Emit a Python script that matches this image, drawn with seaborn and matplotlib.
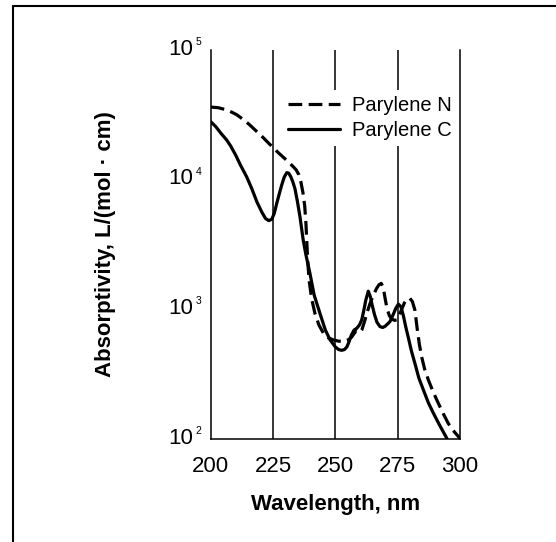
import numpy as np
import pandas as pd
import matplotlib
matplotlib.use("Agg")
import matplotlib.pyplot as plt
from matplotlib.lines import Line2D
from matplotlib.transforms import ScaledTranslation
import seaborn as sns

# ---- data ----
n_wavelength = [200, 203, 206, 208.5, 210.5, 213, 215.5, 218, 220.5, 222.8, 224.9,
                227, 229, 231, 233.1, 234.3, 235.3, 236.2, 237, 237.7, 238.2, 238.6,
                239, 239.5, 240.5, 241.8, 243.4, 245.2, 247.2, 249.2, 251.2, 253.2,
                255.2, 256.5, 257.4, 258.2, 259, 259.8, 260.6, 261.6, 262.8, 264,
                265.3, 266.5, 267.5, 268.4, 269.2, 270, 270.8, 271.7, 272.7, 273.7,
                274.6, 275.6, 276.6, 277.7, 278.8, 279.9, 280.9, 281.9, 282.9, 283.7,
                284.6, 285.8, 287.3, 289.3, 291.3, 293.3, 295.3, 297.3, 299.3, 300]
n_log_abs = [4.56, 4.555, 4.54, 4.52, 4.50, 4.465, 4.425, 4.38, 4.335, 4.29, 4.25,
             4.21, 4.175, 4.14, 4.10, 4.075, 4.04, 3.98, 3.90, 3.80, 3.664, 3.50,
             3.35, 3.22, 3.08, 2.97, 2.88, 2.816, 2.78, 2.764, 2.755, 2.751,
             2.765, 2.785, 2.81, 2.83, 2.825, 2.82, 2.84, 2.90, 2.98, 3.05,
             3.11, 3.16, 3.19, 3.20, 3.17, 3.08, 3.00, 2.95, 2.925, 2.915,
             2.918, 2.95, 3.00, 3.05, 3.08, 3.085, 3.06, 2.995, 2.84, 2.73,
             2.635, 2.54, 2.456, 2.36, 2.276, 2.195, 2.12, 2.065, 2.02, 2.0]

c_wavelength = [200, 202, 204, 206.4, 208, 210, 212, 214.4, 216.5, 218.5, 220.5, 222,
                223.3, 224.5, 225.5, 226.5, 227.5, 228.5, 229.5, 230.5, 231.3, 232.2,
                233, 233.8, 234.8, 235.8, 237.1, 238.2, 239.8, 241.5, 243.8, 246,
                247.9, 250, 251.3, 252.5, 253.7, 254.6, 255.5, 256.4, 257.5, 258.6,
                259.7, 260.6, 261.4, 262.2, 263.2, 264, 264.8, 265.7, 266.7, 267.9,
                269, 270, 271.9, 273.2, 274.3, 275.3, 276.3, 277.3, 278.3, 279.3,
                280.5, 281.9, 283.5, 285.3, 287.3, 289.3, 292, 294.7]
c_log_abs = [4.447, 4.41, 4.36, 4.306, 4.26, 4.19, 4.11, 4.023, 3.93, 3.83, 3.75, 3.70,
             3.684, 3.695, 3.74, 3.818, 3.89, 3.96, 4.02, 4.054, 4.05, 4.02,
             3.98, 3.93, 3.83, 3.715, 3.535, 3.42, 3.278, 3.11, 2.97, 2.84,
             2.764, 2.71, 2.69, 2.684, 2.69, 2.71, 2.75, 2.80, 2.84, 2.854,
             2.88, 2.92, 2.99, 3.07, 3.14, 3.10, 3.03, 2.96, 2.90, 2.867,
             2.86, 2.87, 2.905, 2.96, 3.01, 3.04, 3.02, 2.95, 2.86, 2.78,
             2.68, 2.584, 2.47, 2.379, 2.28, 2.20, 2.10, 2.006]

series_names = ["Parylene N", "Parylene C"]
x_ticks = [200, 225, 250, 275, 300]
y_exponents = [2, 3, 4, 5]
y_tick_labels = ["10", "10", "10", "10"]
grid_positions = [225, 250, 275]

df = pd.concat([
    pd.DataFrame({"Wavelength": n_wavelength,
                  "Absorptivity": np.power(10.0, n_log_abs),
                  "Material": series_names[0]}),
    pd.DataFrame({"Wavelength": c_wavelength,
                  "Absorptivity": np.power(10.0, c_log_abs),
                  "Material": series_names[1]}),
], ignore_index=True)

sns.set_theme(style="white")
plt.rcParams["font.family"] = ["Liberation Sans", "DejaVu Sans"]

W, H = 556, 542
fig = plt.figure(figsize=(W / 100, H / 100), dpi=100)
ax = fig.add_axes([210.7 / W, (H - 439) / H, (460 - 210.7) / W, (439 - 50) / H])

sns.lineplot(data=df, x="Wavelength", y="Absorptivity", style="Material",
             style_order=series_names,
             dashes={series_names[0]: (4.3, 2.0), series_names[1]: ""},
             color="black", linewidth=2.3, sort=False, estimator=None, ax=ax)

ax.set_yscale("log")
ax.set_xlim(200, 300)
ax.set_ylim(1e2, 1e5)
ax.set_xticks(x_ticks)
ax.set_xticklabels([str(t) for t in x_ticks])
y_ticks = [10.0 ** e for e in y_exponents]
ax.set_yticks(y_ticks)
ax.set_yticklabels(y_tick_labels)
ax.yaxis.set_minor_locator(matplotlib.ticker.NullLocator())
ax.tick_params(axis="both", length=0, labelsize=16, colors="black")
ax.tick_params(axis="x", pad=12)
ax.tick_params(axis="y", pad=12.5)
shift_up = ScaledTranslation(0, 3.5 / 100, fig.dpi_scale_trans)
for lab in ax.get_yticklabels():
    lab.set_transform(lab.get_transform() + shift_up)

# small superscript exponents next to the "10" tick labels
for e, v in zip(y_exponents, y_ticks):
    ax.annotate(str(e), xy=(0, v), xycoords=("axes fraction", "data"),
                xytext=(-10.9, 9.4), textcoords="offset points",
                ha="left", va="top", fontsize=7.5, color="black")

for g in grid_positions:
    ax.axvline(g, color="black", linewidth=1.1, zorder=1)

for side in ["left", "bottom", "right"]:
    ax.spines[side].set_visible(True)
    ax.spines[side].set_color("black")
    ax.spines[side].set_linewidth(1.1)
ax.spines["top"].set_visible(False)

ax.set_xlabel("Wavelength, nm", fontsize=16, fontweight="bold", color="black")
ax.set_ylabel("Absorptivity, L/(mol \u00b7 cm)", fontsize=16, fontweight="bold",
              color="black")
ax.xaxis.set_label_coords(0.5, -0.141)
ax.yaxis.set_label_coords(-0.38, 0.5)

leg = ax.legend(loc="upper left", bbox_to_anchor=(0.285, 0.897), fontsize=14.5,
                frameon=True, facecolor="white", edgecolor="none", framealpha=1,
                handlelength=2.6, handletextpad=0.6, labelspacing=0.3,
                borderpad=0.3, borderaxespad=0)
leg.get_frame().set_boxstyle("square", pad=0)
for t in leg.get_texts():
    t.set_color("black")

# outer frame lines (top and left) of the figure
fig.add_artist(Line2D([13 / W, 1.0], [1 - 6 / H, 1 - 6 / H], transform=fig.transFigure,
                      color="black", linewidth=1.5))
fig.add_artist(Line2D([13 / W, 13 / W], [0.0, 1 - 6 / H], transform=fig.transFigure,
                      color="black", linewidth=1.5))

fig.savefig("out.png", dpi=100)
